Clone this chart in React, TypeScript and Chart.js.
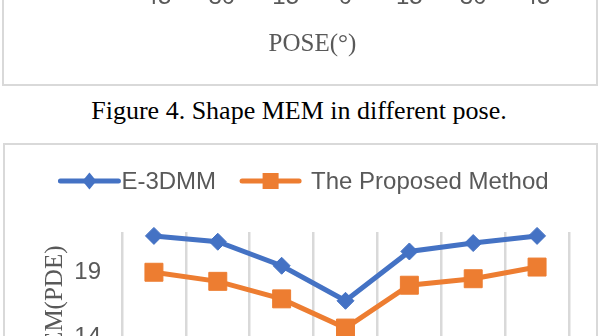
import React, { useEffect, useRef } from "react";
import { Chart, registerables } from "chart.js";

Chart.register(...registerables);

// ---- data ----
const categories = ["-45", "-30", "-15", "0", "15", "30", "45"];
const e3dmmValues = [21.8, 21.35, 19.5, 16.8, 20.6, 21.25, 21.8];
const proposedValues = [19.0, 18.3, 16.95, 14.7, 18.0, 18.5, 19.4];
const yTickValues = [14, 19];
const seriesNames = ["E-3DMM", "The Proposed Method"];
const yAxisTitle = "MEM(PDE)";
const xAxisTitle = "POSE(°)";
const captionText = "Figure 4. Shape MEM in different pose.";
const Y_MIN = 10.5;
const Y_MAX = 22.1;

// ---- style ----
const BLUE = "#4472C4";
const ORANGE = "#ED7D31";
const GRAY = "#595959";
const BORDER = "#d9d9d9";
const SANS = "'Liberation Sans', Arial, sans-serif";
const SERIF = "'Liberation Serif', 'Times New Roman', serif";

const TOP_H = 150;

const topTitlePlugin = {
  id: "topTitle",
  afterDraw(chart: any) {
    const ctx = chart.ctx;
    ctx.save();
    ctx.font = `25px ${SERIF}`;
    ctx.fillStyle = GRAY;
    ctx.textAlign = "center";
    ctx.textBaseline = "middle";
    ctx.fillText(xAxisTitle, chart.width / 2 + 12, chart.height - 40);
    ctx.restore();
  },
};

const legendPlugin = {
  id: "lineLegend",
  afterDraw(chart: any) {
    const ctx = chart.ctx;
    const ds = chart.data.datasets;
    ctx.save();
    ctx.font = `24px ${SANS}`;
    const w1 = ctx.measureText(ds[0].label).width;
    const w2 = ctx.measureText(ds[1].label).width;
    const total = 58 + 3 + w1 + 26 + 57 + 12 + w2;
    let x = chart.width / 2 + 4 - total / 2;
    const yLine = 36;
    const yText = 44;
    ctx.lineCap = "round";
    ctx.lineWidth = 5;
    // item 1
    ctx.strokeStyle = ds[0].borderColor;
    ctx.beginPath();
    ctx.moveTo(x, yLine);
    ctx.lineTo(x + 58, yLine);
    ctx.stroke();
    ctx.fillStyle = ds[0].borderColor;
    const cx = x + 29;
    ctx.beginPath();
    ctx.moveTo(cx - 7, yLine);
    ctx.lineTo(cx, yLine - 8.5);
    ctx.lineTo(cx + 7, yLine);
    ctx.lineTo(cx, yLine + 8.5);
    ctx.closePath();
    ctx.fill();
    ctx.fillStyle = GRAY;
    ctx.textBaseline = "alphabetic";
    ctx.textAlign = "left";
    ctx.fillText(ds[0].label, x + 61, yText);
    x = x + 61 + w1 + 26;
    // item 2
    ctx.strokeStyle = ds[1].borderColor;
    ctx.beginPath();
    ctx.moveTo(x, yLine);
    ctx.lineTo(x + 57, yLine);
    ctx.stroke();
    ctx.fillStyle = ds[1].borderColor;
    const cx2 = x + 28.5;
    ctx.fillRect(cx2 - 8, yLine - 8, 16, 16);
    ctx.fillStyle = GRAY;
    ctx.fillText(ds[1].label, x + 69, yText);
    ctx.restore();
  },
};

export default function App() {
  const topRef = useRef<HTMLCanvasElement>(null);
  const bottomRef = useRef<HTMLCanvasElement>(null);

  useEffect(() => {
    const top = new Chart(topRef.current as HTMLCanvasElement, {
      type: "line",
      data: { labels: categories, datasets: [] },
      options: {
        animation: false,
        responsive: false,
        maintainAspectRatio: false,
        layout: { padding: { left: 117, right: 27, top: 0, bottom: 69 }, autoPadding: false },
        plugins: { legend: { display: false }, tooltip: { enabled: false } },
        scales: {
          x: {
            type: "category",
            offset: true,
            grid: { display: false, drawTicks: false },
            border: { display: false },
            ticks: {
              color: GRAY,
              font: { family: SANS, size: 24 },
              padding: 3,
              maxRotation: 0,
              autoSkip: false,
            },
          },
          y: { display: false },
        },
      },
      plugins: [topTitlePlugin],
    } as any);

    const bottom = new Chart(bottomRef.current as HTMLCanvasElement, {
      type: "line",
      data: {
        labels: categories,
        datasets: [
          {
            label: seriesNames[0],
            data: e3dmmValues,
            borderColor: BLUE,
            backgroundColor: BLUE,
            borderWidth: 5,
            pointStyle: "rectRot",
            pointRadius: 8.5,
            pointBorderWidth: 1,
            pointBackgroundColor: BLUE,
            pointBorderColor: BLUE,
            tension: 0,
            clip: false,
          },
          {
            label: seriesNames[1],
            data: proposedValues,
            borderColor: ORANGE,
            backgroundColor: ORANGE,
            borderWidth: 5,
            pointStyle: "rect",
            pointRadius: 12.7,
            pointBorderWidth: 1,
            pointBackgroundColor: ORANGE,
            pointBorderColor: ORANGE,
            tension: 0,
            clip: false,
          },
        ],
      },
      options: {
        animation: false,
        responsive: false,
        maintainAspectRatio: false,
        layout: { padding: { left: 0, right: 27, top: 87, bottom: 0 }, autoPadding: false },
        plugins: { legend: { display: false }, tooltip: { enabled: false } },
        scales: {
          x: {
            type: "category",
            offset: true,
            ticks: { display: false },
            grid: { offset: true, color: BORDER, lineWidth: 2.5, drawTicks: false },
            border: { display: false },
          },
          y: {
            min: Y_MIN,
            max: Y_MAX,
            afterBuildTicks: (scale: any) => {
              scale.ticks = yTickValues.map((v) => ({ value: v }));
            },
            afterFit: (scale: any) => {
              scale.width = 117;
            },
            grid: { display: false, drawTicks: false },
            border: { display: false },
            ticks: {
              color: GRAY,
              font: { family: SANS, size: 24 },
              padding: 21,
            },
            title: {
              display: true,
              text: yAxisTitle,
              color: GRAY,
              font: { family: SERIF, size: 25 },
              padding: { top: 35, bottom: 0 },
            },
          },
        },
      },
      plugins: [legendPlugin],
    } as any);

    return () => {
      top.destroy();
      bottom.destroy();
    };
  }, []);

  return (
    <div
      style={{
        position: "absolute",
        left: 0,
        top: 0,
        width: 600,
        height: 336,
        overflow: "hidden",
        background: "#fff",
      }}
    >
      <div
        style={{
          position: "absolute",
          left: 2,
          top: -20,
          width: 596,
          height: 106,
          border: `2px solid ${BORDER}`,
          boxSizing: "border-box",
          overflow: "hidden",
        }}
      >
        <canvas
          ref={topRef}
          width={591}
          height={TOP_H}
          style={{ position: "absolute", left: 1, bottom: 0, display: "block" }}
        />
      </div>
      <div
        style={{
          position: "absolute",
          left: 0,
          top: 98,
          width: 598,
          textAlign: "center",
          fontFamily: SERIF,
          fontSize: 26,
          lineHeight: "26px",
          color: "#000",
          whiteSpace: "nowrap",
        }}
      >
        {captionText}
      </div>
      <div
        style={{
          position: "absolute",
          left: 3,
          top: 143,
          width: 595,
          height: 260,
          border: `2px solid ${BORDER}`,
          boxSizing: "border-box",
          overflow: "hidden",
        }}
      >
        <canvas
          ref={bottomRef}
          width={591}
          height={273}
          style={{ position: "absolute", left: 0, top: 0, display: "block" }}
        />
      </div>
    </div>
  );
}
